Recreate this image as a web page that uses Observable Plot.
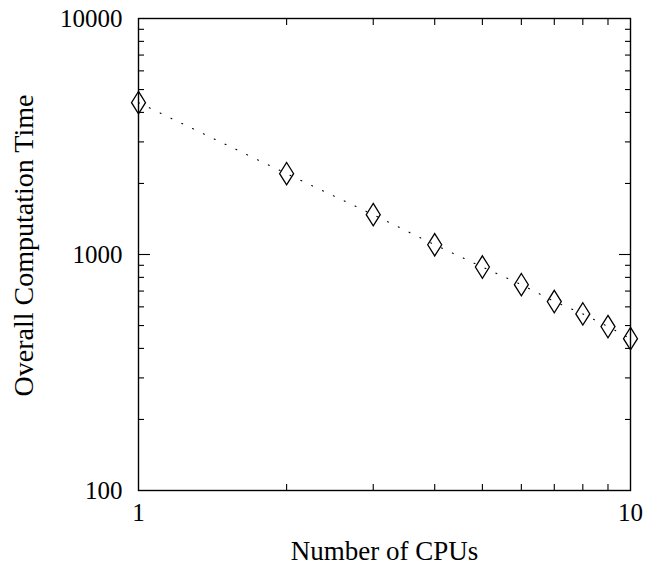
<!DOCTYPE html>
<html>
<head>
<meta charset="utf-8">
<script src="https://cdn.jsdelivr.net/npm/d3@7"></script>
<script src="https://cdn.jsdelivr.net/npm/@observablehq/plot@0.6"></script>
<style>
  html, body { margin: 0; padding: 0; background: #fff; }
</style>
</head>
<body>
<div id="chart"></div>
<script>
const cpus = [1, 2, 3, 4, 5, 6, 7, 8, 9, 10];
const times = [4400, 2200, 1475, 1100, 885, 745, 632, 560, 495, 440];
const yTickLabels = [100, 1000, 10000];
const yMajorInner = [1000];
const yMinor = [200, 300, 400, 500, 600, 700, 800, 900, 2000, 3000, 4000, 5000, 6000, 7000, 8000, 9000];
const xTickLabels = [1, 10];
const xMinor = [2, 3, 4, 5, 6, 7, 8, 9];
const xLabel = "Number of CPUs";
const yLabel = "Overall Computation Time";

const data = cpus.map((c, i) => ({cpus: c, time: times[i]}));

// tall diamond symbol
const tallDiamond = {
  draw(context, size) {
    const r = Math.sqrt(size / Math.PI);
    const h = r * 1.6;
    context.moveTo(0, -h);
    context.lineTo(r, 0);
    context.lineTo(0, h);
    context.lineTo(-r, 0);
    context.closePath();
  }
};

const chart = Plot.plot({
  width: 649,
  height: 569,
  marginLeft: 138,
  marginRight: 19,
  marginTop: 18,
  marginBottom: 79,
  style: {fontFamily: "'Liberation Serif', 'Times New Roman', serif", fontSize: "25px", color: "#000", background: "#fff"},
  x: {type: "log", domain: [1, 10], axis: null},
  y: {type: "log", domain: [100, 10000], axis: null},
  marks: [
    Plot.axisY(yTickLabels, {anchor: "left", tickSize: 0, tickPadding: 16, fontSize: 25, label: null, tickFormat: d => String(d)}),
    Plot.axisX(xTickLabels, {anchor: "bottom", tickSize: 0, tickPadding: 13, fontSize: 25, label: null, tickFormat: d => String(d)}),
    Plot.axisY(yMinor, {anchor: "left", tickSize: -6, text: null, label: null, strokeWidth: 1.1}),
    Plot.axisY(yMinor, {anchor: "right", tickSize: -6, text: null, label: null, strokeWidth: 1.1}),
    Plot.axisY(yMajorInner, {anchor: "left", tickSize: -12, text: null, label: null, strokeWidth: 1.1}),
    Plot.axisY(yMajorInner, {anchor: "right", tickSize: -12, text: null, label: null, strokeWidth: 1.1}),
    Plot.axisX(xMinor, {anchor: "bottom", tickSize: -6, text: null, label: null, strokeWidth: 1.1}),
    Plot.axisX(xMinor, {anchor: "top", tickSize: -6, text: null, label: null, strokeWidth: 1.1}),
    Plot.frame({stroke: "#000", strokeWidth: 1.4}),
    Plot.line(data, {x: "cpus", y: "time", stroke: "#000", strokeWidth: 1.1, strokeDasharray: "1,11"}),
    Plot.dot(data, {x: "cpus", y: "time", symbol: tallDiamond, r: 7, stroke: "#000", strokeWidth: 1.3, fill: "none"}),
    Plot.text([xLabel], {text: d => d, frameAnchor: "bottom", textAnchor: "middle", dy: 69, fontSize: 27}),
    Plot.text([yLabel], {text: d => d, frameAnchor: "left", textAnchor: "middle", rotate: -90, dx: -114, dy: -9, fontSize: 28})
  ]
});
document.getElementById("chart").appendChild(chart);
</script>
</body>
</html>
